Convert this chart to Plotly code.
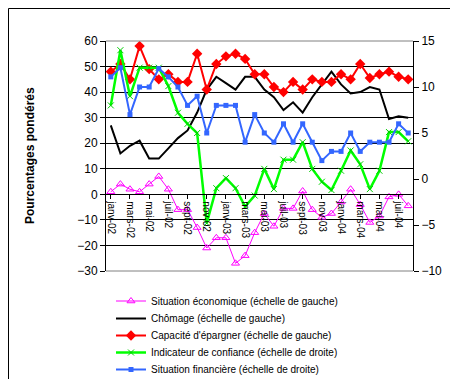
import plotly.graph_objects as go

months = ["janv-02","févr-02","mars-02","avr-02","mai-02","juin-02","juil-02","août-02",
          "sept-02","oct-02","nov-02","déc-02","janv-03","févr-03","mars-03","avr-03",
          "mai-03","juin-03","juil-03","août-03","sept-03","oct-03","nov-03","déc-03",
          "janv-04","févr-04","mars-04","avr-04","mai-04","juin-04","juil-04","août-04"]
tick_labels = months[::2]

situation_eco = [1, 4, 2, 1, 4, 7, 2, -6, -6, -13, -21, -17, -17, -27, -24, -15,
                 -7.5, -12.5, -5.5, -5.5, 1.3, -6, -9, -7.5, -3, 2, -4, -11, -8.5, -1, 0, -4.5]
chomage = [27, 16, 19, 21, 14, 14, 18, 22, 25, 32, 41, 46, 43.5, 41, 46, 46,
           41, 38, 33, 36, 32, 38, 43, 48, 43, 39.5, 40, 42, 41, 29.5, 30.5, 30]
capacite = [48, 51, 45, 58, 49, 45, 47, 44, 44, 55, 41, 51, 54, 55, 53, 47,
            47, 42, 40, 44, 41, 45, 44, 44, 47, 45, 51, 45.5, 47, 48, 46, 45]
confiance = [8, 14, 9, 12.1, 12.1, 12.1, 10.1, 7.2, 6, 5, -4.8, -1, 0.1, -1, -3, -1.8,
             1.1, -1.1, 2.1, 2.1, 4, 1.1, -0.3, -1.2, 0.9, 3.1, 1.6, -1.1, 0.9, 5.1, 5.1, 4.1]
financiere = [11.1, 12.1, 7, 10, 10, 12, 11.1, 10, 8, 9, 5, 8, 8, 8, 4, 7,
              5, 4, 6, 4, 6, 4, 2, 3, 3, 5, 3, 4, 4, 4, 6, 5]

FONT = "Liberation Sans, Arial, sans-serif"

L, R, T, B = 98, 53, 33, 116
W, H = 458, 379
pw, ph = W - L - R, H - T - B

legend_names = ["legend", "legend2", "legend3", "legend4", "legend5"]

fig = go.Figure()
fig.add_trace(go.Scatter(x=months, y=situation_eco, name="Situation économique (échelle de gauche)",
                         legend=legend_names[0],
                         mode="lines+markers", line=dict(color="#FF00FF", width=1),
                         marker=dict(symbol="triangle-up-open", size=7, color="#FF00FF",
                                     line=dict(width=1, color="#FF00FF"))))
fig.add_trace(go.Scatter(x=months, y=chomage, name="Chômage (échelle de gauche)",
                         legend=legend_names[1],
                         mode="lines", line=dict(color="#000000", width=2)))
fig.add_trace(go.Scatter(x=months, y=capacite, name="Capacité d'épargner (échelle de gauche)",
                         legend=legend_names[2],
                         mode="lines+markers", line=dict(color="#FF0000", width=2),
                         marker=dict(symbol="diamond", size=8, color="#FF0000")))
fig.add_trace(go.Scatter(x=months, y=confiance, name="Indicateur de confiance (échelle de droite)",
                         legend=legend_names[3],
                         yaxis="y2", mode="lines+markers", line=dict(color="#00FF00", width=2.5),
                         marker=dict(symbol="x-thin", size=6, color="#00FF00",
                                     line=dict(width=1, color="#00CC00"))))
fig.add_trace(go.Scatter(x=months, y=financiere, name="Situation financière (échelle de droite)",
                         legend=legend_names[4],
                         yaxis="y2", mode="lines+markers", line=dict(color="#3366FF", width=2),
                         marker=dict(symbol="square", size=5, color="#3366FF")))

legend_centers = [293, 310.5, 327.5, 344.5, 361.5]
legend_layouts = {}
for name, cy in zip(legend_names, legend_centers):
    legend_layouts[name] = dict(x=(103 - L) / pw, y=(T + ph - cy) / ph,
                                xanchor="left", yanchor="middle",
                                font=dict(family=FONT, size=10, color="black"),
                                bgcolor="rgba(0,0,0,0)", borderwidth=0, itemwidth=30)

fig.update_layout(
    width=W, height=H,
    margin=dict(l=L, r=R, t=T, b=B, pad=0, autoexpand=False),
    paper_bgcolor="white", plot_bgcolor="white",
    font=dict(family=FONT, size=11, color="black"),
    showlegend=True,
    **legend_layouts,
    xaxis=dict(type="category", categoryorder="array", categoryarray=months,
               range=[-0.5, len(months) - 0.5],
               tickvals=tick_labels, ticktext=tick_labels, tickangle=90,
               tickfont=dict(family=FONT, size=10),
               anchor="free", position=30 / 90,
               showline=True, linecolor="black", linewidth=1,
               ticks="outside", ticklen=4, tickcolor="black",
               showgrid=False, zeroline=False, automargin=False),
    yaxis=dict(range=[-30, 60], dtick=10, tick0=0,
               tickfont=dict(family=FONT, size=12),
               showline=True, linecolor="black", linewidth=1, mirror=False,
               ticks="outside", ticklen=5, tickcolor="black",
               showgrid=True, gridcolor="black", gridwidth=1, zeroline=False, automargin=False),
    yaxis2=dict(range=[-10, 15], dtick=5, tick0=0, overlaying="y", side="right",
                tickfont=dict(family=FONT, size=12),
                showline=True, linecolor="black", linewidth=1,
                ticks="outside", ticklen=5, tickcolor="black",
                showgrid=False, zeroline=False, automargin=False),
    shapes=[
        dict(type="line", xref="paper", yref="paper", x0=0, x1=1, y0=1, y1=1,
             line=dict(color="#808080", width=1), layer="above"),
        dict(type="line", xref="paper", yref="paper", x0=0, x1=1, y0=0, y1=0,
             line=dict(color="#808080", width=1), layer="above"),
        dict(type="rect", xref="paper", yref="paper",
             x0=(0.5 - L) / pw, x1=(W - 0.5 - L) / pw,
             y0=(T + ph - (H - 0.5)) / ph, y1=(T + ph - 0.5) / ph,
             line=dict(color="black", width=1), fillcolor="rgba(0,0,0,0)", layer="above"),
    ],
    annotations=[
        dict(text="<b>Pourcentages pondérés</b>", xref="paper", yref="paper",
             x=(22 - L) / pw, y=(T + ph - 148) / ph, textangle=-90, showarrow=False,
             font=dict(family=FONT, size=12, color="black"), xanchor="center", yanchor="middle"),
    ],
)

fig.write_html("out.html")
